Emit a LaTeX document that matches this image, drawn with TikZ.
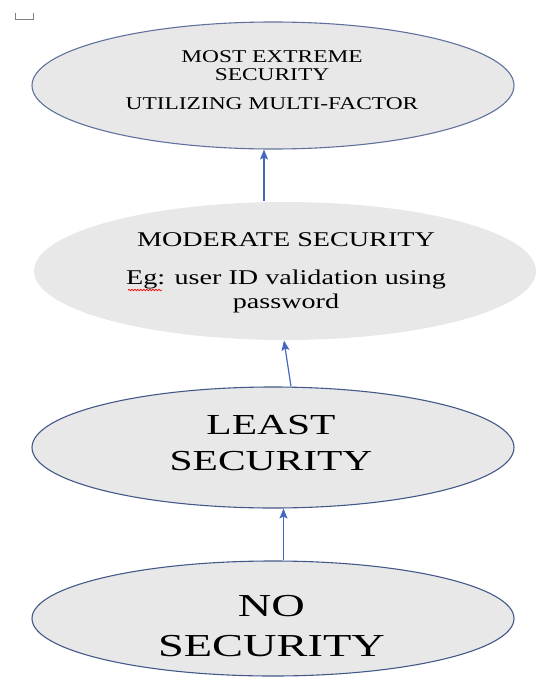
\documentclass[tikz,border=0pt]{standalone}
\usepackage{fontspec}
\setmainfont{Liberation Serif}
\newfontfamily\extremefont[FakeStretch=1.3]{Liberation Serif}
\newfontfamily\moderatefont[FakeStretch=1.34]{Liberation Serif}
\newfontfamily\leastfont[FakeStretch=1.43]{Liberation Serif}
\newfontfamily\nonefont[FakeStretch=1.45]{Liberation Serif}
\usetikzlibrary{shapes.geometric,arrows.meta,decorations.pathmorphing}

\definecolor{stone}{HTML}{E8E8E8}
\definecolor{rimblue}{HTML}{44598A}
\definecolor{arrowblue}{HTML}{4468BE}

\begin{document}
\begin{tikzpicture}[x=1pt, y=-1pt, >= {Stealth[length=10pt, width=8pt, inset=2pt]}]
    \tikzset{
        level/.style = {ellipse, fill = stone, draw = rimblue, line width = 1.1pt, inner sep = 0pt},
        caption/.style = {inner sep = 0pt, align = center},
        link/.style = {->, draw = arrowblue, line width = 1.2pt},
    }
    \useasboundingbox (0, 0) rectangle (537, 677);

    % small mark top left
    \draw [gray, line width = .8pt] (15, 13) -- (15, 19) -- (33, 19) -- (33, 13);

    % the four levels
    \node [level, draw = rimblue!85, minimum width = 482, minimum height = 127] (extreme) at (273, 85.5) {};
    \node [level, draw = none, minimum width = 502, minimum height = 138] (moderate) at (285, 271) {};
    \node [level, minimum width = 482, minimum height = 121] (least) at (273, 447.5) {};
    \node [level, minimum width = 482, minimum height = 115] (none) at (273, 618.5) {};

    \node [caption, font = \extremefont\fontsize{18}{18}\selectfont] (extremetext) at (272, 80.5)
          {MOST EXTREME\\SECURITY\\[11pt]UTILIZING MULTI-FACTOR};
    \node [caption, font = \moderatefont\fontsize{21}{24}\selectfont] (moderatetext) at (286, 273)
          {MODERATE SECURITY\\[14pt]Eg: user ID validation using\\password};
    \node [caption, font = \leastfont\fontsize{29}{36}\selectfont] (leasttext) at (271, 443)
          {LEAST\\SECURITY};
    \node [caption, font = \nonefont\fontsize{32}{40}\selectfont] (nonetext) at (271.5, 626)
          {NO\\SECURITY};

    % spell check mark
    \draw [red, line width = .7pt, decorate, decoration = {snake, amplitude = .7pt, segment length = 3pt}] (128, 290) -- (162, 290);

    \draw [link] ([xshift = -21pt]moderate.north) -- ([xshift = -9pt]extreme.south);
    \draw [link] ([xshift = 18pt]least.north) -- ([xshift = -1pt]moderate.south);
    \draw [link] ([xshift = 10.5pt]none.north) -- ([xshift = 10.5pt]least.south);
\end{tikzpicture}
\end{document}
